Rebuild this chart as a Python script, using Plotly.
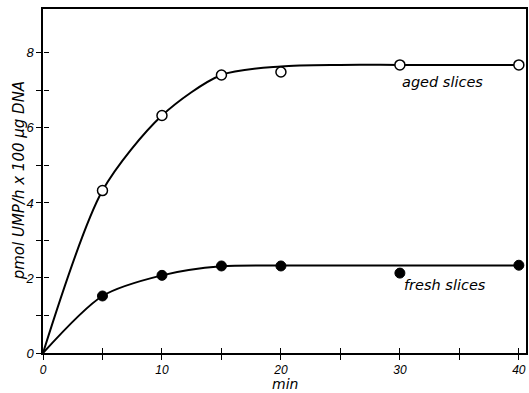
import plotly.graph_objects as go

# measured points
time_min = [5, 10, 15, 20, 30, 40]
aged_vals = [4.33, 6.33, 7.41, 7.49, 7.68, 7.68]
fresh_vals = [1.52, 2.07, 2.32, 2.32, 2.13, 2.34]

# fitted curves
curve_t = [0, 5, 10, 15, 20, 25, 30, 40]
aged_curve = [0, 4.33, 6.33, 7.41, 7.64, 7.68, 7.68, 7.68]
fresh_curve = [0, 1.52, 2.07, 2.31, 2.33, 2.33, 2.33, 2.33]

x_tick_vals = [0, 5, 10, 15, 20, 25, 30, 35, 40]
x_tick_text = ["0", "", "10", "", "20", "", "30", "", "40"]
y_tick_vals = [0, 1, 2, 3, 4, 5, 6, 7, 8]
y_tick_text = ["0", "", "2", "", "4", "", "6", "", "8"]

FONT = "DejaVu Sans"
TICKFONT = "Liberation Sans"
fig = go.Figure()

line_style = dict(color="black", width=2, shape="spline", smoothing=0.8)
fig.add_trace(go.Scatter(x=curve_t, y=aged_curve, mode="lines", line=line_style,
                         hoverinfo="skip", showlegend=False))
fig.add_trace(go.Scatter(x=curve_t, y=fresh_curve, mode="lines", line=line_style,
                         hoverinfo="skip", showlegend=False))
fig.add_trace(go.Scatter(x=time_min, y=aged_vals, mode="markers",
                         marker=dict(symbol="circle", size=10, color="white",
                                     line=dict(color="black", width=1.5)),
                         showlegend=False))
fig.add_trace(go.Scatter(x=time_min, y=fresh_vals, mode="markers",
                         marker=dict(symbol="circle", size=10, color="black",
                                     line=dict(color="black", width=1)),
                         showlegend=False))
# invisible trace on the helper axes that draw the inward half of each tick
fig.add_trace(go.Scatter(x=[0], y=[0], xaxis="x2", yaxis="y2", mode="markers",
                         marker=dict(opacity=0), hoverinfo="skip", showlegend=False))

fig.add_annotation(x=33.6, y=7.23, text="aged slices", showarrow=False,
                   font=dict(family=FONT, size=14.5, style="italic", color="black"))
fig.add_annotation(x=33.8, y=1.81, text="fresh slices", showarrow=False,
                   font=dict(family=FONT, size=14.5, style="italic", color="black"))
fig.add_annotation(xref="paper", yref="paper", x=0.5, y=-0.090, text="min",
                   showarrow=False, yanchor="middle",
                   font=dict(family=FONT, size=14, style="italic", color="black"))
fig.add_annotation(xref="paper", yref="paper", x=-0.049, y=0.5,
                   text="pmol UMP/h x 100 µg DNA", textangle=-90,
                   showarrow=False, xanchor="center", yanchor="middle",
                   font=dict(family=FONT, size=15, style="italic", color="black"))

xr = [0, 40.6]
yr = [0, 9.17]
common = dict(showgrid=False, zeroline=False, ticklen=5, tickwidth=1.2,
              tickcolor="black", tickmode="array")
fig.update_layout(
    width=529, height=393,
    margin=dict(l=43, r=1, t=9, b=40),
    paper_bgcolor="white", plot_bgcolor="white",
    font=dict(family=TICKFONT, size=13, color="black", style="italic"),
    xaxis=dict(range=xr, showline=True, linecolor="black", linewidth=1.5, mirror=True,
               ticks="outside", tickvals=x_tick_vals, ticktext=x_tick_text,
               tickfont=dict(family=TICKFONT, size=12, style="italic"), **common),
    yaxis=dict(range=yr, showline=True, linecolor="black", linewidth=1.5, mirror=True,
               ticks="outside", tickvals=y_tick_vals, ticktext=y_tick_text,
               tickfont=dict(family=TICKFONT, size=13, style="italic"), **common),
    xaxis2=dict(range=xr, overlaying="x", side="top", anchor="free", position=0,
                showline=False, ticks="outside", tickvals=x_tick_vals[1:],
                showticklabels=False, **common),
    yaxis2=dict(range=yr, overlaying="y", side="right", anchor="free", position=0,
                showline=False, ticks="outside", tickvals=y_tick_vals[1:],
                showticklabels=False, **common),
)

fig.write_html("out.html", config={"displayModeBar": False},
               post_script="document.body.style.margin='0';document.body.style.padding='0';")
